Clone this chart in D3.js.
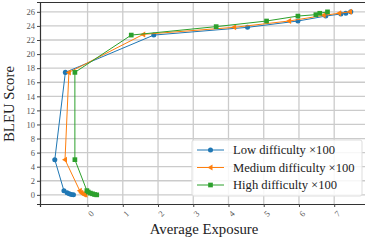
<!DOCTYPE html>
<html>
<head>
<meta charset="utf-8">
<script src="https://cdn.jsdelivr.net/npm/d3@7"></script>
<style>
  body { margin: 0; background: #fff; }
  svg { display: block; font-family: "Liberation Serif", "DejaVu Serif", serif; }
</style>
</head>
<body>
<div id="chart"></div>
<script>
(function() {

  // average exposure / BLEU score, one pair per point
  var lowX  = [-0.40, -0.46, -0.52, -0.58, -0.67, -0.93, -0.63, 1.88, 4.54, 5.97, 6.76, 7.19, 7.33, 7.47];
  var lowY  = [0.00, 0.05, 0.15, 0.30, 0.57, 5.0, 17.4, 22.7, 23.8, 24.7, 25.4, 25.7, 25.8, 26.0];
  var medX  = [-0.06, -0.10, -0.14, -0.18, -0.22, -0.64, -0.53, 1.58, 4.16, 5.72, 6.70, 7.14, 7.45];
  var medY  = [0.00, 0.05, 0.15, 0.30, 0.57, 5.0, 17.4, 22.8, 23.8, 24.7, 25.5, 25.8, 26.0];
  var highX = [0.26, 0.20, 0.14, 0.08, 0.02, -0.02, -0.36, -0.36, 1.24, 3.65, 5.08, 5.97, 6.48, 6.59, 6.81];
  var highY = [0.00, 0.05, 0.15, 0.25, 0.40, 0.60, 5.0, 17.4, 22.7, 23.9, 24.7, 25.4, 25.6, 25.8, 26.0];

  var xTicks = [0, 1, 2, 3, 4, 5, 6, 7, 8];
  var yTicks = [0, 2, 4, 6, 8, 10, 12, 14, 16, 18, 20, 22, 24, 26];

  var seriesNames = ['Low difficulty \u00d7100', 'Medium difficulty \u00d7100', 'High difficulty \u00d7100'];
  var seriesColors = ['#1f77b4', '#ff7f0e', '#2ca02c'];
  var seriesShapes = [d3.symbolCircle, 'tri', d3.symbolSquare];

  var series = [[lowX, lowY], [medX, medY], [highX, highY]].map(function(s, i) {
    return {
      name: seriesNames[i],
      color: seriesColors[i],
      shape: seriesShapes[i],
      points: s[0].map(function(x, j) { return [x, s[1][j]]; })
    };
  });

  var width = 365, height = 240;
  var svg = d3.select('#chart').append('svg')
    .attr('width', width)
    .attr('height', height);

  var x = d3.scaleLinear().domain([-1.35, 8.3]).range([40, 380]);
  var y = d3.scaleLinear().domain([-1.3, 27.4]).range([204, 2]);

  // grid
  svg.append('g').selectAll('line')
    .data(xTicks)
    .enter().append('line')
    .attr('x1', function(d) { return x(d); })
    .attr('x2', function(d) { return x(d); })
    .attr('y1', y.range()[0]).attr('y2', y.range()[1])
    .attr('stroke', '#cbcbcb').attr('stroke-width', 1.3);

  svg.append('g').selectAll('line')
    .data(yTicks)
    .enter().append('line')
    .attr('x1', 40).attr('x2', width)
    .attr('y1', function(d) { return y(d); })
    .attr('y2', function(d) { return y(d); })
    .attr('stroke', '#cbcbcb').attr('stroke-width', 1.3);

  // axes
  var yAxis = svg.append('g')
    .attr('transform', 'translate(40,0)')
    .call(d3.axisLeft(y).tickValues(yTicks).tickSize(3).tickPadding(2));

  var xAxis = svg.append('g')
    .attr('transform', 'translate(0,204)')
    .call(d3.axisBottom(x).tickValues(xTicks).tickSize(3).tickPadding(2));

  [xAxis, yAxis].forEach(function(a) {
    a.select('.domain').attr('stroke', '#333').attr('stroke-width', 1.2);
    a.selectAll('.tick line').attr('stroke', '#444');
    a.selectAll('text')
      .attr('fill', '#555')
      .style('font-family', '"Liberation Serif", serif')
      .style('font-size', '8.5px');
  });

  xAxis.selectAll('.tick text')
    .attr('text-anchor', 'end')
    .attr('dy', '0.3em')
    .attr('transform', 'translate(1,5) rotate(-45)');

  // top spine
  svg.append('line')
    .attr('x1', 40).attr('x2', width)
    .attr('y1', 2.5).attr('y2', 2.5)
    .attr('stroke', '#333').attr('stroke-width', 1.2);

  var line = d3.line()
    .x(function(d) { return x(d[0]); })
    .y(function(d) { return y(d[1]); });

  function marker(sel, shape, color) {
    if (shape === 'tri') {
      // left-pointing triangle
      sel.append('path')
        .attr('d', 'M-3,0L2,-3L2,3Z')
        .attr('fill', color);
    } else {
      sel.append('path')
        .attr('d', d3.symbol().type(shape).size(shape === d3.symbolSquare ? 22 : 20)())
        .attr('fill', color);
    }
  }

  var plot = svg.append('g');
  series.forEach(function(s) {
    var g = plot.append('g');
    g.append('path')
      .datum(s.points)
      .attr('fill', 'none')
      .attr('stroke', s.color)
      .attr('stroke-width', 1)
      .attr('d', line);
    g.selectAll('g.pt')
      .data(s.points)
      .enter().append('g')
      .attr('class', 'pt')
      .attr('transform', function(d) { return 'translate(' + x(d[0]) + ',' + y(d[1]) + ')'; })
      .each(function() { marker(d3.select(this), s.shape, s.color); });
  });

  // axis labels
  svg.append('text')
    .attr('x', 204).attr('y', 234)
    .attr('text-anchor', 'middle')
    .attr('fill', '#222')
    .style('font-size', '14.8px')
    .text('Average Exposure');

  svg.append('text')
    .attr('transform', 'translate(14,104) rotate(-90)')
    .attr('text-anchor', 'middle')
    .attr('fill', '#222')
    .style('font-size', '14.8px')
    .text('BLEU Score');

  // legend
  var legend = svg.append('g').attr('transform', 'translate(192,140)');
  legend.append('rect')
    .attr('width', 170).attr('height', 56)
    .attr('rx', 2)
    .attr('fill', 'rgba(255,255,255,0.85)')
    .attr('stroke', '#ddd');

  var row = legend.selectAll('g.row')
    .data(series)
    .enter().append('g')
    .attr('class', 'row')
    .attr('transform', function(d, i) { return 'translate(0,' + (10 + i * 17.5) + ')'; });

  row.append('line')
    .attr('x1', 5).attr('x2', 32)
    .attr('stroke', function(d) { return d.color; })
    .attr('stroke-width', 1);

  row.append('g')
    .attr('transform', 'translate(18.5,0)')
    .each(function(d) { marker(d3.select(this), d.shape, d.color); });

  row.append('text')
    .attr('x', 41).attr('y', 0)
    .attr('dy', '0.35em')
    .attr('fill', '#222')
    .style('font-size', '12.6px')
    .text(function(d) { return d.name; });

})();
</script>
</body>
</html>
